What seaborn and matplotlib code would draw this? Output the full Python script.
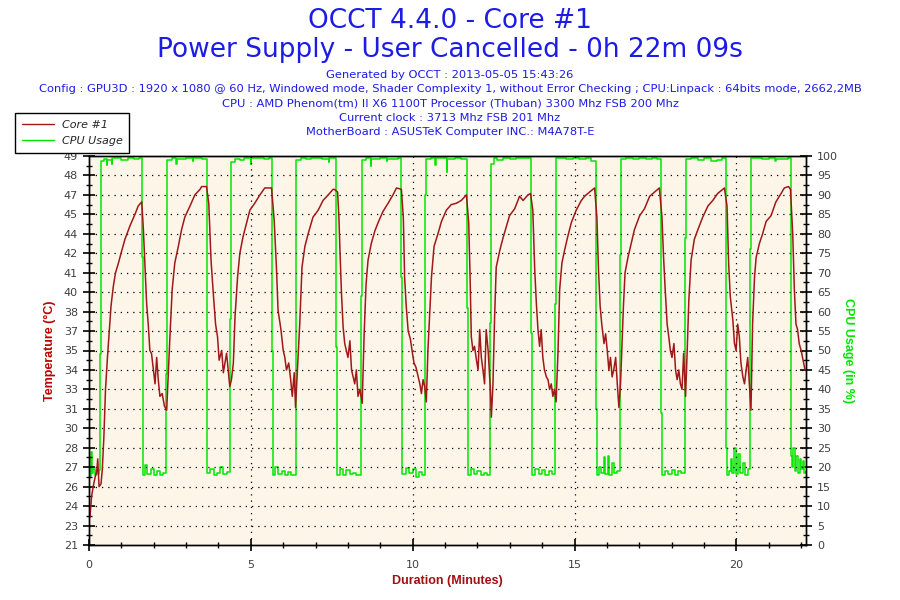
import numpy as np
import pandas as pd
import matplotlib
matplotlib.use("Agg")
import matplotlib.pyplot as plt
import seaborn as sns
from matplotlib.lines import Line2D

# --- data ---
core_time = [
    0.00, 0.03, 0.08, 0.13, 0.19, 0.24, 0.27, 0.31, 0.37, 0.41, 0.46, 0.51, 0.57, 0.62, 0.68,
    0.75, 0.82, 0.91, 0.99, 1.11, 1.27, 1.42, 1.52, 1.63, 1.68, 1.73, 1.78, 1.83, 1.88, 1.93,
    1.99, 2.04, 2.09, 2.14, 2.19, 2.26, 2.33, 2.40, 2.45, 2.50, 2.57, 2.65, 2.76, 2.86, 2.96,
    3.12, 3.27, 3.43, 3.48, 3.63, 3.70, 3.77, 3.84, 3.91, 3.97, 4.02, 4.10, 4.15, 4.20, 4.25,
    4.30, 4.35, 4.40, 4.46, 4.51, 4.59, 4.66, 4.76, 4.87, 4.97, 5.12, 5.28, 5.43, 5.64, 5.72,
    5.79, 5.84, 5.93, 6.00, 6.05, 6.10, 6.17, 6.23, 6.28, 6.34, 6.38, 6.46, 6.51, 6.58, 6.67,
    6.77, 6.92, 7.08, 7.23, 7.39, 7.54, 7.58, 7.68, 7.72, 7.76, 7.80, 7.85, 7.90, 7.95, 8.00,
    8.06, 8.11, 8.16, 8.21, 8.26, 8.31, 8.37, 8.44, 8.50, 8.56, 8.62, 8.72, 8.83, 8.93, 9.08,
    9.24, 9.39, 9.50, 9.65, 9.71, 9.75, 9.80, 9.86, 9.93, 9.98, 10.04, 10.10, 10.17, 10.22, 10.27,
    10.32, 10.37, 10.42, 10.47, 10.53, 10.58, 10.66, 10.78, 10.89, 11.04, 11.19, 11.35, 11.50, 11.66, 11.73,
    11.77, 11.81, 11.86, 11.91, 11.97, 12.02, 12.07, 12.12, 12.17, 12.22, 12.27, 12.33, 12.40, 12.43, 12.48,
    12.53, 12.58, 12.69, 12.79, 12.89, 12.99, 13.15, 13.30, 13.41, 13.56, 13.64, 13.71, 13.77, 13.82, 13.87,
    13.92, 13.97, 14.02, 14.07, 14.13, 14.18, 14.23, 14.28, 14.33, 14.38, 14.43, 14.49, 14.54, 14.61, 14.69,
    14.79, 14.90, 15.05, 15.21, 15.31, 15.46, 15.62, 15.69, 15.74, 15.79, 15.84, 15.91, 15.96, 16.01, 16.06,
    16.11, 16.16, 16.21, 16.27, 16.32, 16.37, 16.42, 16.46, 16.51, 16.56, 16.65, 16.75, 16.85, 17.01, 17.16,
    17.32, 17.47, 17.62, 17.70, 17.75, 17.80, 17.86, 17.91, 17.96, 18.01, 18.07, 18.12, 18.17, 18.22, 18.27,
    18.32, 18.37, 18.43, 18.48, 18.53, 18.60, 18.70, 18.81, 18.96, 19.12, 19.27, 19.42, 19.63, 19.71, 19.76,
    19.81, 19.89, 19.94, 19.99, 20.04, 20.09, 20.14, 20.20, 20.25, 20.30, 20.35, 20.40, 20.45, 20.50, 20.56,
    20.61, 20.71, 20.81, 20.92, 21.07, 21.22, 21.38, 21.48, 21.61, 21.67, 21.74, 21.79, 21.84, 21.89, 21.94,
    22.00, 22.05, 22.12,
]
core_temp = [
    23.4, 23.0, 24.5, 25.2, 25.9, 26.3, 27.2, 25.2, 25.4, 26.4, 28.8, 32.2, 34.5, 36.2, 38.2,
    39.6, 40.6, 41.3, 42.0, 43.0, 44.0, 44.8, 45.4, 45.7, 43.7, 41.0, 38.4, 36.9, 35.0, 34.8,
    33.6, 32.6, 34.5, 32.9, 31.7, 31.9, 31.0, 30.7, 33.4, 36.0, 39.4, 41.3, 42.5, 43.7, 44.6,
    45.4, 46.2, 46.6, 46.8, 46.8, 45.6, 41.5, 39.1, 36.9, 36.0, 34.3, 35.0, 33.4, 34.1, 34.8,
    33.6, 32.4, 32.9, 34.1, 37.4, 40.3, 42.0, 43.2, 44.2, 45.1, 45.6, 46.2, 46.7, 46.7, 44.4,
    41.0, 37.9, 36.5, 35.0, 34.5, 33.6, 34.1, 32.9, 31.7, 33.4, 30.9, 34.5, 36.9, 41.0, 42.5,
    43.4, 44.6, 45.1, 45.8, 46.2, 46.6, 46.6, 46.4, 44.6, 41.7, 39.1, 36.7, 35.5, 35.0, 34.5,
    35.7, 33.6, 33.1, 32.6, 33.6, 31.7, 32.2, 31.2, 36.2, 39.8, 41.5, 42.7, 43.6, 44.2, 45.0,
    45.6, 46.2, 46.7, 46.6, 44.6, 40.3, 38.2, 36.4, 35.8, 35.0, 34.1, 33.8, 33.1, 32.6, 31.9,
    32.9, 32.4, 31.3, 35.0, 37.9, 40.3, 42.5, 43.4, 44.3, 45.1, 45.5, 45.6, 45.8, 46.2, 44.2,
    40.6, 36.0, 35.0, 35.3, 34.3, 33.6, 36.5, 34.5, 33.6, 32.6, 36.5, 35.0, 32.2, 30.2, 32.6,
    37.4, 41.0, 42.2, 43.1, 43.9, 44.7, 45.2, 46.1, 45.8, 46.2, 46.3, 45.1, 40.8, 38.4, 36.5,
    35.3, 36.5, 34.5, 33.6, 33.1, 32.9, 32.2, 32.6, 31.7, 32.2, 31.3, 35.0, 39.4, 41.3, 42.2,
    43.2, 44.2, 45.1, 45.8, 46.1, 46.4, 46.7, 44.6, 40.8, 38.2, 36.9, 35.5, 36.2, 35.0, 33.6,
    34.5, 33.1, 33.6, 34.5, 32.6, 30.9, 32.6, 35.0, 38.2, 40.6, 41.7, 42.7, 43.7, 44.7, 45.2,
    46.1, 46.4, 46.7, 44.6, 41.7, 39.4, 36.9, 36.0, 35.0, 34.5, 35.5, 33.6, 32.9, 33.6, 32.6,
    32.2, 34.8, 31.7, 35.0, 38.6, 41.5, 43.0, 43.7, 44.6, 45.4, 45.8, 46.3, 46.7, 45.4, 41.3,
    38.9, 37.2, 35.5, 35.0, 36.9, 36.0, 34.1, 33.1, 32.6, 33.6, 34.5, 32.6, 30.7, 36.9, 40.3,
    41.7, 42.7, 43.4, 44.3, 44.7, 45.7, 46.3, 46.7, 46.8, 46.6, 43.4, 39.4, 36.9, 36.5, 35.5,
    35.0, 34.4, 33.6,
]

cpu_time = [
    0.00, 0.04, 0.07, 0.09, 0.13, 0.17, 0.21, 0.26, 0.30, 0.34, 0.37,
    0.45, 0.55, 0.57, 0.70, 0.72, 1.00, 1.20, 1.40, 1.55, 1.63, 1.66,
    1.72, 1.78, 1.90, 2.00, 2.10, 2.20, 2.30, 2.37, 2.40,
    2.55, 2.70, 2.72, 3.00, 3.20, 3.22, 3.50, 3.63, 3.66,
    3.75, 3.85, 3.95, 4.05, 4.15, 4.25, 4.37, 4.40,
    4.50, 4.65, 4.80, 5.00, 5.02, 5.40, 5.55, 5.64, 5.67,
    5.75, 5.85, 5.95, 6.05, 6.15, 6.25, 6.38, 6.41,
    6.55, 6.70, 6.85, 7.00, 7.20, 7.40, 7.42, 7.64, 7.67,
    7.75, 7.85, 7.95, 8.05, 8.15, 8.25, 8.39, 8.42,
    8.55, 8.70, 8.72, 9.00, 9.20, 9.22, 9.55, 9.65, 9.68,
    9.78, 9.90, 10.00, 10.10, 10.20, 10.30, 10.39, 10.41,
    10.55, 10.70, 10.72, 11.05, 11.07, 11.30, 11.50, 11.68, 11.71,
    11.80, 11.90, 12.00, 12.10, 12.20, 12.30, 12.40, 12.43,
    12.50, 12.60, 12.80, 13.00, 13.20, 13.45, 13.66, 13.69,
    13.78, 13.90, 14.00, 14.10, 14.20, 14.30, 14.40, 14.43,
    14.55, 14.75, 14.95, 15.15, 15.35, 15.50, 15.66, 15.69,
    15.76, 15.82, 15.90, 15.95, 16.02, 16.07, 16.15, 16.22, 16.30, 16.41, 16.44,
    16.60, 16.80, 17.00, 17.20, 17.40, 17.55, 17.67, 17.70,
    17.80, 17.90, 18.00, 18.10, 18.20, 18.30, 18.42, 18.45,
    18.60, 18.80, 19.00, 19.20, 19.40, 19.55, 19.68, 19.71,
    19.76, 19.82, 19.87, 19.93, 19.98, 20.05, 20.12, 20.20, 20.28, 20.35, 20.42, 20.45,
    20.60, 20.80, 21.00, 21.20, 21.22, 21.58, 21.69, 21.72,
    21.76, 21.80, 21.85, 21.90, 21.95, 22.00, 22.05, 22.10, 22.14,
]
cpu_usage = [
    19.0, 17.8, 24.0, 18.5, 19.5, 18.0, 19.0, 18.2, 19.2, 49.0, 98.6,
    99.2, 97.6, 99.0, 98.0, 99.4, 99.0, 99.5, 99.2, 99.4, 74.0, 18.0,
    20.5, 18.2, 19.5, 18.0, 19.0, 18.0, 18.5, 44.0, 99.0,
    99.4, 98.0, 99.3, 99.5, 98.8, 99.4, 99.2, 59.0, 18.5,
    19.5, 18.0, 18.5, 20.0, 18.2, 18.8, 58.0, 98.5,
    99.3, 99.0, 99.5, 98.0, 99.4, 99.2, 99.5, 50.0, 18.0,
    20.0, 18.2, 19.0, 18.0, 18.8, 18.0, 64.0, 99.0,
    99.5, 99.2, 99.4, 99.5, 99.2, 98.4, 99.5, 51.0, 18.0,
    19.5, 18.0, 19.2, 18.2, 18.6, 18.0, 64.0, 99.0,
    99.4, 97.5, 99.2, 99.5, 98.6, 99.3, 99.5, 69.0, 18.2,
    19.8, 18.4, 19.5, 17.6, 18.8, 18.0, 90.0, 99.3,
    99.5, 97.8, 99.4, 96.0, 99.3, 99.5, 99.2, 61.0, 18.0,
    19.5, 18.2, 19.0, 18.0, 18.6, 18.0, 57.0, 98.0,
    99.5, 99.0, 99.5, 99.3, 99.4, 99.5, 54.5, 18.0,
    19.5, 18.2, 19.4, 18.0, 19.0, 18.2, 62.0, 99.4,
    99.5, 99.3, 99.5, 99.2, 99.5, 98.6, 35.0, 18.0,
    20.0, 18.4, 22.5, 18.2, 23.0, 18.0, 21.0, 18.4, 19.0, 74.5, 99.3,
    99.5, 99.2, 99.5, 99.3, 99.5, 99.2, 34.0, 18.0,
    19.0, 18.2, 19.2, 18.0, 19.0, 18.4, 79.0, 99.3,
    99.5, 99.0, 99.4, 98.8, 99.0, 99.5, 25.0, 18.0,
    19.0, 22.0, 18.4, 25.0, 18.2, 23.5, 18.5, 21.0, 18.0, 19.5, 76.0, 99.4,
    99.5, 99.3, 99.5, 98.7, 99.3, 99.5, 23.0, 20.0,
    25.0, 19.0, 23.0, 18.5, 22.0, 19.5, 21.5, 18.5, 19.0,
]

temp_tick_labels = ["21", "23", "24", "26", "27", "28", "30", "31", "33", "34", "35",
                    "37", "38", "40", "41", "42", "44", "45", "47", "48", "49"]
cpu_tick_labels = ["0", "5", "10", "15", "20", "25", "30", "35", "40", "45", "50",
                   "55", "60", "65", "70", "75", "80", "85", "90", "95", "100"]
time_tick_labels = ["0", "5", "10", "15", "20"]

header_lines = [
    "Generated by OCCT : 2013-05-05 15:43:26",
    "Config : GPU3D : 1920 x 1080 @ 60 Hz, Windowed mode, Shader Complexity 1, without Error Checking ; CPU:Linpack : 64bits mode, 2662,2MB",
    "CPU : AMD Phenom(tm) II X6 1100T Processor (Thuban) 3300 Mhz FSB 200 Mhz",
    "Current clock : 3713 Mhz FSB 201 Mhz",
    "MotherBoard : ASUSTeK Computer INC.: M4A78T-E",
]

CORE = "#a01818"
CPU = "#00e600"
BG = "#fdf6e8"
BLUE = "#1c1ce6"
TICK = "#404040"

sns.set_style("ticks")
plt.rcParams["font.family"] = ["DejaVu Sans"]

core_df = pd.DataFrame({"Duration": core_time, "Temperature": core_temp})
cpu_df = pd.DataFrame({"Duration": cpu_time, "Usage": cpu_usage})

fig = plt.figure(figsize=(9, 6), dpi=100)
ax = fig.add_axes([89 / 900, 55 / 600, 717 / 900, 389 / 600])
ax2 = ax.twinx()

# temperature drawn above the usage trace
ax.set_zorder(2)
ax2.set_zorder(1)
ax.patch.set_visible(False)
ax2.patch.set_visible(True)
ax2.set_facecolor(BG)

sns.lineplot(data=cpu_df, x="Duration", y="Usage", ax=ax2, color=CPU, lw=1.1,
             drawstyle="steps-post", estimator=None, sort=False, legend=False)
sns.lineplot(data=core_df, x="Duration", y="Temperature", ax=ax, color=CORE, lw=1.1,
             estimator=None, sort=False, legend=False)

ax.set_xlim(0, 22.15)
ax.set_ylim(21, 49)
ax2.set_ylim(0, 100)

temp_ticks = np.linspace(21, 49, len(temp_tick_labels))
ax.set_yticks(temp_ticks)
ax.set_yticklabels(temp_tick_labels)
ax.set_yticks((temp_ticks[:-1] + temp_ticks[1:]) / 2, minor=True)

cpu_ticks = np.linspace(0, 100, len(cpu_tick_labels))
ax2.set_yticks(cpu_ticks)
ax2.set_yticklabels(cpu_tick_labels)
ax2.set_yticks((cpu_ticks[:-1] + cpu_ticks[1:]) / 2, minor=True)

ax.set_xticks([float(v) for v in time_tick_labels])
ax.set_xticklabels(time_tick_labels)
ax.set_xticks(np.arange(0, 23), minor=True)

for a in (ax, ax2):
    a.tick_params(which="major", direction="inout", length=9, width=1.2,
                  labelsize=8, labelcolor=TICK, color="black")
    a.tick_params(which="minor", direction="inout", length=5, width=1, color="black")
    for s in a.spines.values():
        s.set_visible(True)
        s.set_color("black")
        s.set_linewidth(1)
ax.tick_params(axis="x", which="major", pad=6)

ax.grid(False)
ax2.grid(False)
dots = (0, (1, 4))
for y in temp_ticks[1:-1]:
    ax.axhline(y, color="black", lw=0.9, ls=dots, zorder=0.5)
for x in [5, 10, 15, 20]:
    ax.axvline(x, color="black", lw=0.9, ls=dots, zorder=0.5)

ax.set_xlabel("Duration (Minutes)", color="#a01010", fontweight="bold", fontsize=9,
              family=["Liberation Sans", "DejaVu Sans"])
ax.xaxis.set_label_coords(0.5, -0.077)
ax.set_ylabel("Temperature (°C)", color="#c00000", fontweight="bold", fontsize=9,
              family=["Liberation Sans", "DejaVu Sans"])
ax.yaxis.set_label_coords((56 - 89) / 717, 0.5)
ax2.set_ylabel("CPU Usage (in %)", color=CPU, fontweight="bold", fontsize=9,
               rotation=270, va="center", family=["Liberation Sans", "DejaVu Sans"])
ax2.yaxis.set_label_coords((848 - 89) / 717, 0.5)

fig.text(0.5, 1 - 21 / 600, "OCCT 4.4.0 - Core #1", ha="center", va="center",
         fontsize=19, color=BLUE)
fig.text(0.5, 1 - 50 / 600, "Power Supply - User Cancelled - 0h 22m 09s", ha="center",
         va="center", fontsize=19, color=BLUE)
for i, line in enumerate(header_lines):
    fig.text(0.5, 1 - (75 + 14.3 * i) / 600, line, ha="center", va="center",
             fontsize=8.25, color=BLUE)

handles = [Line2D([], [], color=CORE, lw=1), Line2D([], [], color=CPU, lw=1)]
leg = fig.legend(handles, ["Core #1", "CPU Usage"], loc="upper left",
                 bbox_to_anchor=(15 / 900, 1 - 113 / 600), borderaxespad=0,
                 frameon=True, fancybox=False, edgecolor="black", framealpha=1,
                 prop={"style": "italic", "size": 8}, handlelength=2.9, borderpad=0.6,
                 labelspacing=0.6, handletextpad=0.7)
leg.get_frame().set_linewidth(1)
leg.set_zorder(10)

fig.savefig("out.png", dpi=100)
